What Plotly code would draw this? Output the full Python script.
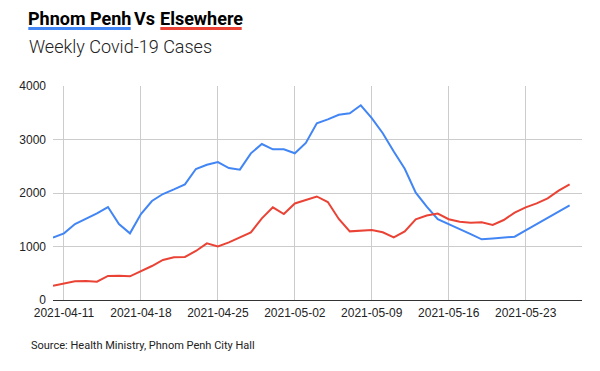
import pandas as pd
import plotly.graph_objects as go

dates = pd.date_range("2021-04-10", "2021-05-27", freq="D")

phnom_penh = [1165, 1246, 1420, 1520, 1620, 1738, 1420, 1246, 1607, 1850,
              1981, 2068, 2162, 2448, 2529, 2579, 2467, 2436, 2741, 2916,
              2816,
              2817, 2742, 2935, 3303, 3377, 3462, 3489, 3639, 3400, 3118,
              2775, 2452, 2006, 1745, 1510, 1425, 1325, 1230, 1134, 1148,
              1165, 1184, 1300, 1417, 1534, 1651, 1769]

elsewhere = [268, 305, 349, 355, 343, 449, 455, 442, 536, 635,
             748, 797, 804, 916, 1059, 1003, 1078, 1171, 1265, 1526,
             1732,
             1607, 1805, 1869, 1935, 1832, 1514, 1283, 1290, 1308, 1265,
             1171, 1283, 1508, 1580, 1615, 1510, 1464, 1445, 1452, 1402,
             1495, 1632, 1732, 1807, 1900, 2043, 2162]

x_ticks = ["2021-04-11", "2021-04-18", "2021-04-25", "2021-05-02",
           "2021-05-09", "2021-05-16", "2021-05-23"]
y_ticks = [0, 1000, 2000, 3000, 4000]

title_a = "Phnom Penh"
title_b = "Vs"
title_c = "Elsewhere"
subtitle = "Weekly Covid-19 Cases"
source = "Source: Health Ministry, Phnom Penh City Hall"

BLUE = "#4285F4"
RED = "#EA4335"

OFF = 8  # page body margin
W, H = 600 - OFF, 371 - OFF
# plot area in page pixels: left 53, right 582, top 86, bottom 300
ML, MT = 53 - OFF, 86 - OFF
MR = W - (582 - OFF)
MB = H - (300 - OFF)
PW = W - ML - MR
PH = H - MT - MB


def px(x):
    return (x - OFF - ML) / PW


def py(y):
    return (H - MB - (y - OFF)) / PH


fig = go.Figure()
fig.add_trace(go.Scatter(x=dates, y=phnom_penh, mode="lines",
                         line=dict(color=BLUE, width=2), name=title_a))
fig.add_trace(go.Scatter(x=dates, y=elsewhere, mode="lines",
                         line=dict(color=RED, width=2), name=title_c))

fig.update_layout(
    width=W, height=H,
    margin=dict(l=ML, r=MR, t=MT, b=MB, pad=0),
    paper_bgcolor="white", plot_bgcolor="white",
    showlegend=False,
    font=dict(family="Liberation Sans, Arial", size=12, color="#222"),
    xaxis=dict(
        type="date",
        range=["2021-04-10", "2021-05-28 03:00"],
        tickvals=x_ticks, ticktext=x_ticks,
        showgrid=True, gridcolor="#cccccc", gridwidth=1,
        showline=True, linecolor="#333333", linewidth=1,
        ticks="", zeroline=False,
        tickfont=dict(family="Liberation Sans, Arial", size=12, color="#222"),
        ticklabelstandoff=2,
    ),
    yaxis=dict(
        range=[0, 4000],
        tickvals=y_ticks,
        showgrid=True, gridcolor="#cccccc", gridwidth=1,
        zeroline=False, showline=False, ticks="",
        tickfont=dict(family="Liberation Sans, Arial", size=12, color="#222"),
        ticklabelstandoff=6,
    ),
)

title_font = dict(family="Roboto", size=18, color="#000", weight=700)
fig.add_annotation(
    text=title_a, xref="paper", yref="paper", x=px(26), y=py(18.5),
    xanchor="left", yanchor="middle", showarrow=False, font=title_font,
)
fig.add_annotation(
    text=title_b, xref="paper", yref="paper", x=px(144), y=py(18.5),
    xanchor="center", yanchor="middle", showarrow=False, font=title_font,
)
fig.add_annotation(
    text=title_c, xref="paper", yref="paper", x=px(158), y=py(18.5),
    xanchor="left", yanchor="middle", showarrow=False, font=title_font,
)
fig.add_annotation(
    text=subtitle,
    xref="paper", yref="paper", x=px(27), y=py(46.5),
    xanchor="left", yanchor="middle", showarrow=False,
    font=dict(family="Roboto Light, Roboto", size=18, color="#222", weight=300),
)
fig.add_annotation(
    text=source,
    xref="paper", yref="paper", x=px(29), y=py(345),
    xanchor="left", yanchor="middle", showarrow=False,
    font=dict(family="Roboto", size=11, color="#222"),
)

fig.add_shape(type="line", xref="paper", yref="paper",
              x0=px(28.3), x1=px(130.7), y0=py(28.6), y1=py(28.6),
              line=dict(color=BLUE, width=3))
fig.add_shape(type="line", xref="paper", yref="paper",
              x0=px(160.3), x1=px(241.7), y0=py(28.6), y1=py(28.6),
              line=dict(color=RED, width=3))

fig.write_html("out.html")
